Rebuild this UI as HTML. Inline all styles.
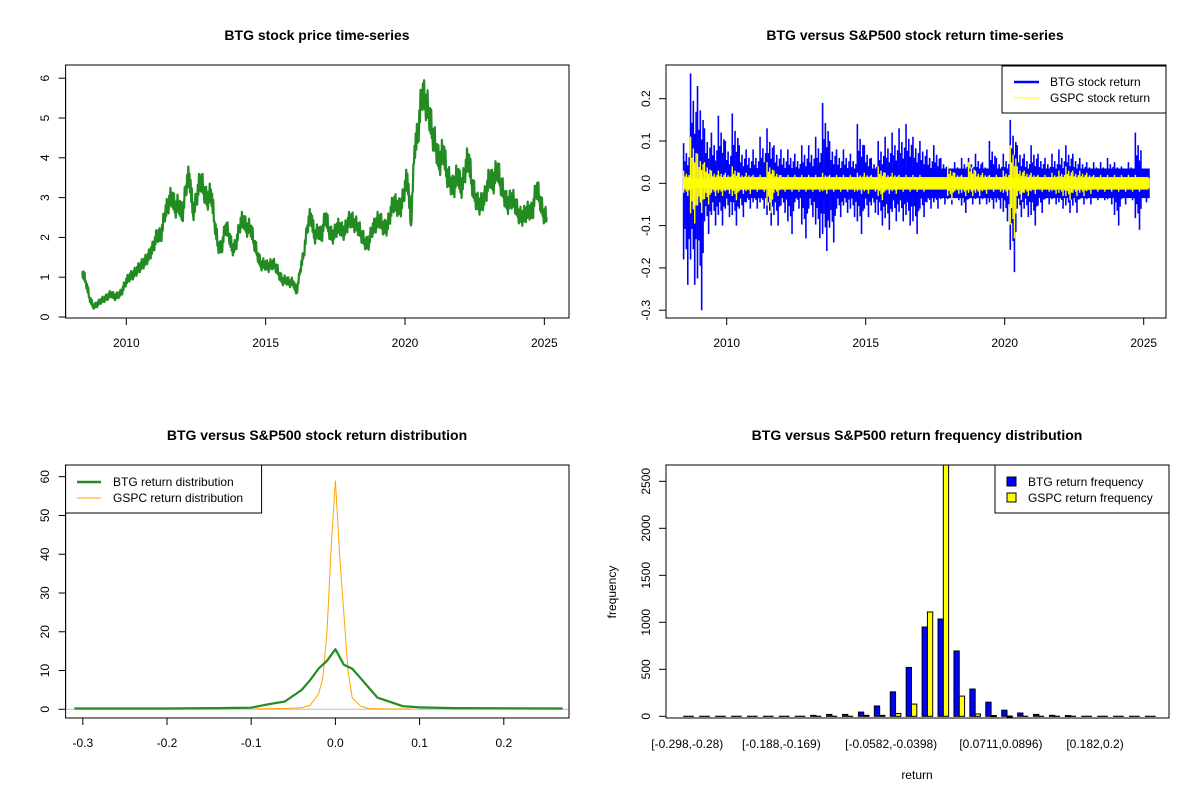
<!DOCTYPE html>
<html><head><meta charset="utf-8"><style>
body{margin:0;background:#fff}
svg{display:block;font-family:"Liberation Sans",Arial,sans-serif}
</style></head><body>
<svg id="c" width="1200" height="800" viewBox="0 0 1200 800" xmlns="http://www.w3.org/2000/svg">
<rect width="1200" height="800" fill="#fff"/>
</svg>
<script>
// ---- Data ----
const priceStart = 2008.42;
const priceStep = 0.1282;
const priceValues = [1.15,0.9,0.5,0.27,0.3,0.4,0.45,0.5,0.6,0.5,0.55,0.62,0.85,1.0,1.05,1.15,1.25,1.35,1.45,1.6,1.8,2.1,2.0,2.6,2.8,3.1,2.7,2.9,2.5,3.3,3.6,2.6,3.0,3.5,3.2,2.9,3.2,2.4,1.8,1.7,2.3,2.1,1.7,1.8,2.3,2.5,2.2,2.3,1.9,1.6,1.3,1.35,1.25,1.35,1.3,1.1,0.9,0.95,0.85,0.9,0.6,1.2,1.6,2.3,2.6,2.0,2.2,2.0,2.6,2.2,2.0,2.2,2.3,2.1,2.3,2.5,2.35,2.3,2.1,1.9,1.8,2.2,2.3,2.5,2.3,2.2,2.5,2.9,2.8,2.7,3.1,3.6,2.3,4.3,4.6,5.7,5.4,5.2,4.6,4.3,3.8,4.3,3.6,3.4,3.2,3.7,3.2,3.6,4.1,3.4,3.0,2.8,2.9,3.1,3.6,3.3,3.8,3.4,3.1,2.8,3.0,2.9,2.6,2.5,2.6,2.7,2.6,3.3,3.0,2.6,2.5];
const priceYTicks = [0,1,2,3,4,5,6];
const yearTicks = [2010,2015,2020,2025];

const retStart = 2008.45;
const retStep = 0.25;
const btgHi = [0.095,0.26,0.23,0.13,0.12,0.16,0.10,0.165,0.09,0.08,0.08,0.11,0.13,0.09,0.08,0.08,0.07,0.09,0.09,0.11,0.19,0.10,0.08,0.08,0.07,0.14,0.09,0.06,0.10,0.11,0.12,0.13,0.14,0.11,0.10,0.08,0.09,0.06,0.04,0.05,0.06,0.06,0.07,0.05,0.10,0.06,0.07,0.15,0.09,0.07,0.09,0.07,0.06,0.07,0.08,0.09,0.07,0.06,0.05,0.05,0.05,0.06,0.05,0.04,0.05,0.12,0.035];
const btgLo = [-0.24,-0.24,-0.30,-0.12,-0.10,-0.10,-0.08,-0.10,-0.08,-0.06,-0.06,-0.06,-0.10,-0.10,-0.07,-0.12,-0.06,-0.13,-0.08,-0.13,-0.16,-0.14,-0.08,-0.07,-0.08,-0.12,-0.08,-0.07,-0.10,-0.11,-0.09,-0.09,-0.10,-0.12,-0.08,-0.06,-0.06,-0.05,-0.05,-0.04,-0.07,-0.05,-0.05,-0.05,-0.06,-0.06,-0.09,-0.21,-0.08,-0.08,-0.10,-0.07,-0.05,-0.05,-0.06,-0.07,-0.07,-0.05,-0.05,-0.04,-0.04,-0.05,-0.10,-0.05,-0.04,-0.11,-0.045];
const gspcHi = [0.03,0.11,0.07,0.05,0.03,0.03,0.025,0.04,0.025,0.025,0.02,0.02,0.05,0.03,0.02,0.02,0.02,0.02,0.02,0.02,0.025,0.02,0.02,0.02,0.02,0.025,0.025,0.02,0.04,0.025,0.025,0.02,0.02,0.02,0.02,0.015,0.015,0.015,0.04,0.025,0.02,0.05,0.03,0.025,0.02,0.02,0.03,0.09,0.04,0.03,0.025,0.02,0.02,0.025,0.03,0.04,0.03,0.03,0.025,0.02,0.02,0.02,0.02,0.02,0.02,0.02,0.015];
const gspcLo = [-0.03,-0.095,-0.07,-0.05,-0.03,-0.03,-0.025,-0.04,-0.025,-0.025,-0.02,-0.02,-0.07,-0.03,-0.02,-0.02,-0.02,-0.02,-0.02,-0.02,-0.025,-0.02,-0.02,-0.02,-0.02,-0.025,-0.025,-0.02,-0.04,-0.025,-0.025,-0.02,-0.02,-0.02,-0.02,-0.015,-0.015,-0.015,-0.04,-0.025,-0.03,-0.03,-0.03,-0.025,-0.02,-0.02,-0.03,-0.13,-0.04,-0.03,-0.025,-0.02,-0.02,-0.025,-0.03,-0.04,-0.03,-0.03,-0.025,-0.02,-0.02,-0.02,-0.02,-0.02,-0.02,-0.02,-0.015];
const retYTicks = [-0.3,-0.2,-0.1,0,0.1,0.2];
const retYLabels = ["-0.3","-0.2","-0.1","0.0","0.1","0.2"];

const densX = [-0.31,-0.2,-0.14,-0.1,-0.08,-0.06,-0.04,-0.03,-0.02,-0.01,0,0.01,0.02,0.03,0.04,0.05,0.06,0.08,0.1,0.14,0.27];
const densBTG = [0.2,0.2,0.3,0.4,1.3,2.0,5.0,7.5,10.5,12.5,15.5,11.5,10.5,8.0,5.5,3.0,2.3,0.8,0.5,0.3,0.2];
const densGX = [-0.095,-0.06,-0.04,-0.03,-0.02,-0.015,-0.01,-0.005,0,0.005,0.01,0.015,0.02,0.03,0.04,0.06,0.09];
const densGSPC = [0.1,0.2,0.4,1.0,4.0,8.0,20,42,59,40,25,10,3,0.8,0.2,0.1,0.1];
const densXTicks = [-0.3,-0.2,-0.1,0,0.1,0.2];
const densXLabels = ["-0.3","-0.2","-0.1","0.0","0.1","0.2"];
const densYTicks = [0,10,20,30,40,50,60];

const histBTG = [0,0,0,0,0,0,0,0,10,20,20,45,110,260,520,950,1035,695,290,150,65,35,20,10,8,0,0,0,0,0];
const histGSPC = [0,0,0,0,0,0,0,0,0,0,0,10,10,30,130,1110,2900,215,25,8,3,0,0,0,0,0,0,0,0,0];
const histLabelIdx = [0,6,13,20,26];
const histLabels = ["[-0.298,-0.28)","[-0.188,-0.169)","[-0.0582,-0.0398)","[0.0711,0.0896)","[0.182,0.2)"];
const histYTicks = [0,500,1000,1500,2000,2500];

// ---- helpers ----
const NS="http://www.w3.org/2000/svg";
const svg=document.getElementById('c');
function el(tag,attrs,parent){const e=document.createElementNS(NS,tag);for(const k in attrs)e.setAttribute(k,attrs[k]);(parent||svg).appendChild(e);return e;}
function txt(x,y,s,size,opts,parent){opts=opts||{};const t=el('text',{x:x,y:y,'font-size':size,'text-anchor':opts.anchor||'middle','font-weight':opts.bold?'bold':'normal',fill:'#000'},parent);if(opts.rot)t.setAttribute('transform','rotate(-90 '+x+' '+y+')');t.textContent=s;return t;}
function group(name){const g=el('g',{});return g;}
function box(g,x0,y0,x1,y1){el('rect',{x:x0,y:y0,width:x1-x0,height:y1-y0,fill:'none',stroke:'#000','stroke-width':1},g);}

// ===== Panel 1: price =====
(function(){
const g=group('price-panel');
const X=y=>126.3+(y-2010)*27.87, Y=v=>317-v*39.8;
const lineG=group('price-line');
let d='';
const wig=[0.9,-1,0.6,-0.7,1,-0.5];
priceValues.forEach((v,i)=>{
  const t=priceStart+i*priceStep;
  d+=(i?'L':'M')+X(t).toFixed(1)+' '+Y(v).toFixed(1);
  if(i<priceValues.length-1){
    const n=priceValues[i+1];
    const s=0.05+0.07*v;
    for(let k=1;k<=5;k++){
      const f=k/6;
      d+='L'+X(t+f*priceStep).toFixed(1)+' '+Y(v+(n-v)*f+s*wig[k]).toFixed(1);
    }
  }
});
el('path',{d:d,fill:'none',stroke:'#228B22','stroke-width':2.2,'stroke-linejoin':'round'},lineG);
box(g,65.6,65,569,318);
const ax=group('price-x-axis');
el('line',{x1:X(2010),x2:X(2025),y1:318,y2:318,stroke:'#000'},ax);
yearTicks.forEach(t=>{el('line',{x1:X(t),x2:X(t),y1:318,y2:325,stroke:'#000'},ax);txt(X(t),347,String(t),12,{},ax);});
const ay=group('price-y-axis');
el('line',{x1:65.6,x2:65.6,y1:Y(0),y2:Y(6),stroke:'#000'},ay);
priceYTicks.forEach(t=>{el('line',{x1:58.6,x2:65.6,y1:Y(t),y2:Y(t),stroke:'#000'},ay);txt(49,Y(t),String(t),12,{rot:1},ay);});
const tt=txt(317,40,'BTG stock price time-series',14,{bold:1});

})();

// ===== Panel 2: returns =====
(function(){
const X=y=>726.7+(y-2010)*27.8, Y=v=>183.3-v*423;
const gb=group('btg-return-series');
const fr=[0,0.2,0.4,0.6,0.8];
const sc=[1,0.55,0.75,0.45,0.65];
btgHi.forEach((h,i)=>{
  const t0=retStart+i*retStep;
  el('rect',{x:X(t0),y:Y(0.035),width:27.8*retStep+0.5,height:Y(-0.035)-Y(0.035),fill:'#0000FF'},gb);
  fr.forEach((f,k)=>{
    const x=X(t0+f*retStep);
    el('line',{x1:x,x2:x,y1:Y(Math.max(h*sc[k],0.03)),y2:Y(Math.min(btgLo[i]*sc[(k+2)%5],-0.03)),stroke:'#0000FF','stroke-width':1.6},gb);
  });
});
const gy=group('gspc-return-series');
gspcHi.forEach((h,i)=>{
  const t0=retStart+i*retStep;
  el('rect',{x:X(t0),y:Y(0.012),width:27.8*retStep+0.5,height:Y(-0.012)-Y(0.012),fill:'#FFFF00'},gy);
  fr.forEach((f,k)=>{
    const x=X(t0+f*retStep);
    el('line',{x1:x,x2:x,y1:Y(Math.max(h*sc[k],0.015)),y2:Y(Math.min(gspcLo[i]*sc[(k+2)%5],-0.015)),stroke:'#FFFF00','stroke-width':1.4},gy);
  });
});
const g=group('return-frame');
box(g,666,65,1166,318);
const ax=group('return-x-axis');
el('line',{x1:X(2010),x2:X(2025),y1:318,y2:318,stroke:'#000'},ax);
yearTicks.forEach(t=>{el('line',{x1:X(t),x2:X(t),y1:318,y2:325,stroke:'#000'},ax);txt(X(t),347,String(t),12,{},ax);});
const ay=group('return-y-axis');
el('line',{x1:666,x2:666,y1:Y(-0.3),y2:Y(0.2),stroke:'#000'},ay);
retYTicks.forEach((t,i)=>{el('line',{x1:659,x2:666,y1:Y(t),y2:Y(t),stroke:'#000'},ay);txt(650,Y(t),retYLabels[i],12,{rot:1},ay);});
const lg=group('return-legend');
el('rect',{x:1002,y:66,width:164,height:47,fill:'#fff',stroke:'#000'},lg);
el('line',{x1:1014,x2:1039,y1:82,y2:82,stroke:'#0000FF','stroke-width':2.5},lg);
el('line',{x1:1014,x2:1039,y1:98,y2:98,stroke:'#FFFF00','stroke-width':1},lg);
txt(1050,86,'BTG stock return',12,{anchor:'start'},lg);
txt(1050,102,'GSPC stock return',12,{anchor:'start'},lg);
const tt=txt(915,40,'BTG versus S&P500 stock return time-series',14,{bold:1});

})();

// ===== Panel 3: density =====
(function(){
const X=v=>335.4+v*842, Y=v=>709.3-v*3.877;
el('line',{x1:65.6,x2:569,y1:Y(0),y2:Y(0),stroke:'#bebebe'});
const gg=group('gspc-density-line');
let d='';densGX.forEach((x,i)=>{d+=(i?'L':'M')+X(x).toFixed(1)+' '+Y(densGSPC[i]).toFixed(1);});
el('path',{d:d,fill:'none',stroke:'#FFA500','stroke-width':1},gg);
const gb=group('btg-density-line');
d='';densX.forEach((x,i)=>{d+=(i?'L':'M')+X(x).toFixed(1)+' '+Y(densBTG[i]).toFixed(1);});
el('path',{d:d,fill:'none',stroke:'#228B22','stroke-width':2.2,'stroke-linejoin':'round'},gb);
const g=group('density-frame');
box(g,65.6,465,569,718);
const ax=group('density-x-axis');
el('line',{x1:X(-0.3),x2:X(0.2),y1:718,y2:718,stroke:'#000'},ax);
densXTicks.forEach((t,i)=>{el('line',{x1:X(t),x2:X(t),y1:718,y2:725,stroke:'#000'},ax);txt(X(t),747,densXLabels[i],12,{},ax);});
const ay=group('density-y-axis');
el('line',{x1:65.6,x2:65.6,y1:Y(0),y2:Y(60),stroke:'#000'},ay);
densYTicks.forEach(t=>{el('line',{x1:58.6,x2:65.6,y1:Y(t),y2:Y(t),stroke:'#000'},ay);txt(49,Y(t),String(t),12,{rot:1},ay);});
const lg=group('density-legend');
el('rect',{x:65.6,y:465,width:196,height:48,fill:'#fff',stroke:'#000'},lg);
el('line',{x1:77,x2:101,y1:482,y2:482,stroke:'#228B22','stroke-width':2.5},lg);
el('line',{x1:77,x2:101,y1:498,y2:498,stroke:'#FFA500','stroke-width':1},lg);
txt(113,486,'BTG return distribution',12,{anchor:'start'},lg);
txt(113,502,'GSPC return distribution',12,{anchor:'start'},lg);
const tt=txt(317,440,'BTG versus S&P500 stock return distribution',14,{bold:1});

})();

// ===== Panel 4: histogram =====
(function(){
const G0=683.3, GW=15.92, BW=5.31;
const Y=v=>716.3-v*0.094;
const clipTop=465;
const gb=group('btg-frequency-bars');
const gy=group('gspc-frequency-bars');
function bar(x,v,fill,parent,name){
  const top=Math.max(Y(v),clipTop);
  if(v<=0){
    const l=el('line',{x1:x,x2:x+BW,y1:Y(0),y2:Y(0),stroke:'#000','stroke-width':1.2},parent);
    
    
    return;
  }
  const r=el('rect',{x:x,y:top,width:BW,height:Math.max(Y(0)-top,1),fill:fill,stroke:'#000','stroke-width':1},parent);
  
  
}
histBTG.forEach((v,i)=>{
  const x=G0+i*GW;
  bar(x,v,'#0000FF',gb,'btg-bar');
  bar(x+BW,histGSPC[i],'#FFFF00',gy,'gspc-bar');
});
const g=group('histogram-frame');
box(g,666,465,1169,718);
const ax=group('histogram-x-labels');
histLabelIdx.forEach((b,i)=>{txt(G0+b*GW*0.985+4,748,histLabels[i],12,{},ax);});
const ay=group('histogram-y-axis');
el('line',{x1:666,x2:666,y1:Y(0),y2:Y(2500),stroke:'#000'},ay);
histYTicks.forEach(t=>{el('line',{x1:659,x2:666,y1:Y(t),y2:Y(t),stroke:'#000'},ay);txt(650,Y(t),String(t),12,{rot:1},ay);});
const yl=txt(616,592,'frequency',12,{rot:1});

const xl=txt(917,779,'return',12,{});

const lg=group('histogram-legend');
el('rect',{x:995,y:465,width:174,height:48,fill:'#fff',stroke:'#000'},lg);
el('rect',{x:1007,y:477,width:9,height:9,fill:'#0000FF',stroke:'#000'},lg);
el('rect',{x:1007,y:493,width:9,height:9,fill:'#FFFF00',stroke:'#000'},lg);
txt(1028,486,'BTG return frequency',12,{anchor:'start'},lg);
txt(1028,502,'GSPC return frequency',12,{anchor:'start'},lg);
const tt=txt(917,440,'BTG versus S&P500 return frequency distribution',14,{bold:1});

})();
</script>
</body></html>
